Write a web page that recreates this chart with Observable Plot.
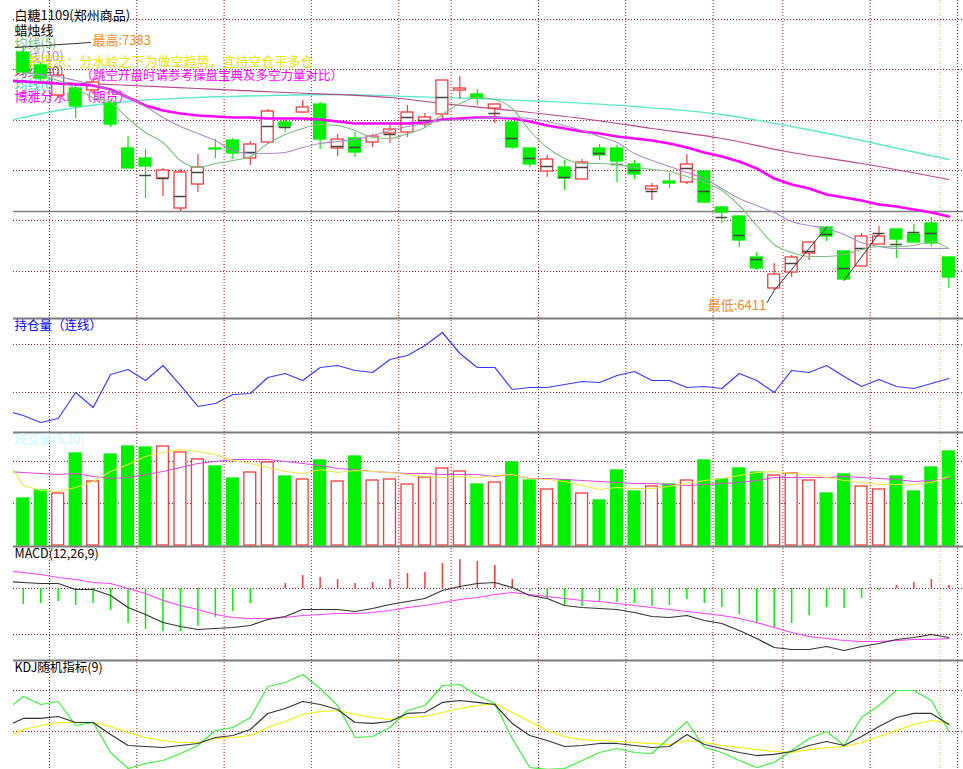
<!DOCTYPE html>
<html><head><meta charset="utf-8">
<script src="https://cdn.jsdelivr.net/npm/d3@7"></script>
<script src="https://cdn.jsdelivr.net/npm/@observablehq/plot@0.6"></script>
<style>
body{margin:0;background:#fff;}
#chart{width:963px;line-height:0;}
#chart svg{display:block;}
</style></head><body><div id="chart"></div>
<script>
// ---- candle data (bar index 0..53) ----
const opens  = [7363,7311,7191,7219,7211,7159,6979,6939,6859,6739, 6835,6979,7011,6939,7003,7083,7123,7155,6979,7019, 7003,7039,7043,7075,7115,7211,7195,7139,7083,6979, 6887,6903,6855,6979,6979,6915,6815,6847,6843,6887, 6743,6707,6543,6419,6483,6559,6663,6567,6507,6595, 6655,6635,6679,6543];
const highs  = [7383,7323,7283,7231,7259,7171,7027,6975,6899,6895, 6955,7015,7019,7007,7135,7091,7171,7163,7035,7043, 7035,7071,7151,7119,7251,7267,7215,7155,7083,6979, 6951,6931,6935,6995,6991,6931,6839,6879,6955,6887, 6747,6707,6563,6519,6551,6603,6663,6567,6639,6667, 6655,6675,6703,6543];
const lows   = [7267,7243,7179,7099,7195,7063,6899,6779,6787,6727, 6803,6939,6935,6911,6995,7043,7119,6975,6947,6943, 6983,6999,7023,7059,7095,7175,7151,7079,6975,6903, 6863,6811,6855,6931,6843,6855,6771,6819,6835,6759, 6679,6583,6491,6411,6463,6531,6607,6451,6507,6595, 6539,6603,6587,6419];
const closes = [7283,7259,7271,7147,7243,7075,6899,6907,6891,6883, 6903,6975,6959,6995,7127,7067,7143,7015,7015,6963, 7027,7055,7123,7103,7251,7219,7179,7155,6983,6915, 6935,6859,6923,6951,6927,6875,6827,6839,6915,6763, 6723,6611,6499,6475,6543,6603,6627,6455,6627,6627, 6615,6603,6599,6463];
const settleIdx = [7,8,9,10,13,14,15,18,19,21,22,23,24,27,28,29,30,31,32,33,34,35,36,38,39,40,41,42,44,45,46,47,48,49,50,51,52];
const settleVal = [6871,6859,6787,6883,6963,7067,7063,6987,6983,7035,7103,7091,7183,7119,7019,6939,6907,6863,6903,6959,6915,6891,6807,6899,6807,6703,6631,6535,6519,6567,6635,6499,6579,6639,6595,6643,6639];
// moving averages on price (index 0..53)
const ma5  = [7283,7271,7251,7219,7183,7163,7099,7043,7003,6931, 6903,6919,6931,6947,6999,7035,7059,7075,7071,7051, 7023,7019,7039,7063,7115,7159,7183,7175,7139,7051, 6983,6939,6919,6919,6915,6903,6895,6887,6867,6843, 6811,6751,6671,6595,6563,6547,6547,6555,6575,6587, 6587,6591,6607,6579];
const ma10 = [7283,7275,7267,7251,7235,7211,7183,7147,7103,7067, 7039,7011,6971,6959,6959,6963,6983,6999,7007,7015, 7031,7051,7067,7079,7091,7095,7099,7103,7103,7099, 7087,7071,7051,7027,7003,6959,6931,6907,6883,6859, 6819,6779,6751,6723,6687,6671,6659,6635,6603,6587, 6579,6579,6579,6579];
const ma40Idx = [-1,5,10,15,21,24,28,32,36,40,44,48,53];
const ma40    = [7251,7235,7219,7203,7183,7159,7131,7099,7059,7019,6963,6919,6855];
const ma60Idx = [-1,0,3,6,10,14,18,22,26,30,35,40,44,48,53];
const ma60    = [7087,7103,7143,7167,7183,7191,7195,7187,7179,7167,7147,7115,7067,7011,6935];
// 博雅分水岭, index -1..53
const divide = [7251,7247,7243,7239,7235,7231,7215,7183,7151,7131,7119,7111,7107,7103,7103,7099,7099,7099,7095,7087,7079,7079,7079,7079,7083,7095,7099,7103,7103,7099,7087,7071,7059,7047,7039,7027,7019,7011,6999,6983,6963,6947,6927,6899,6859,6835,6819,6795,6783,6771,6755,6747,6735,6723,6707];
const priceGrid = [7495,7295,7091,6891,6691,6487];
const priceRef = 6727;
const highMark = 7383, lowMark = 6411;
// open interest, index -1..53
const openInt = [370000,361700,350000,356700,400000,375000,430000,438300,420000,445000,411700, 376700,381700,396700,398300,425000,431700,420000,441700,445000,436700, 433300,455000,461700,478300,500000,465000,441700,441700,405000,408300, 408300,413300,418300,416700,428300,435000,420000,420000,408300,410000, 406700,431700,420000,400000,436700,433300,445000,426700,410000,421700, 410000,406700,415000,423300];
const oiGrid = [480000,400000];
// volume (index 0..53) and its averages (index -1..53)
const volume = [223800,261900,247600,438100,304800,433300,471400,466700,471400,442900, 409500,376200,319100,347600,395200,328600,314300,404800,304800,423800, 309500,314300,290500,323800,366700,352400,290500,300000,395200,309500, 266700,309500,247600,214300,357200,257100,281000,290500,309500,404800, 314300,366700,347600,333300,342900,309500,247600,338100,281000,266700, 328600,257100,371400,447600];
const volMa5 = [414300, 285700,261900,257100,276200,304800,352400,385700,423800,442900,457200, 447600,433300,404800,390500,371400,352400,342900,361900,347600,357200, 352400,347600,338100,328600,323800,328600,323800,333300,338100,319100, 314300,304800,285700,266700,276200,271400,271400,281000,295200,309500, 319100,333300,347600,352400,342900,338100,323800,309500,300000,290500, 290500,290500,300000,328600];
const volMa10 = [352400, 347600,342900,338100,342900,328600,319100,323800,338100,352400,371400, 390500,400000,409500,409500,409500,400000,390500,381000,366700,361900, 352400,347600,342900,342900,338100,338100,338100,328600,338100,319100, 319100,314300,309500,304800,300000,295200,295200,290500,285700,290500, 295200,300000,309500,323800,323800,323800,323800,328600,323800,319100, 314300,304800,309500,319100];
const volGrid = [400000,200000];
// MACD (hist index 0..53, lines index -1..53)
const macdHist = [-32,-30,-26,-34,-30,-44,-70,-82,-86,-86, -76,-58,-46,-30,-2,10,26,22,18,10, 12,18,30,32,50,58,54,46,18,-6, -20,-34,-36,-28,-28,-30,-36,-34,-22,-30, -38,-52,-68,-78,-70,-54,-38,-40,-20,-4, 6,12,18,6];
const dif = [14, 12,10,10,-2,-2,-14,-38,-52,-68,-76, -82,-80,-78,-74,-62,-56,-42,-42,-42,-46, -40,-32,-26,-20,-4,4,10,12,2,-14, -20,-34,-38,-40,-42,-48,-56,-58,-54,-64, -70,-84,-100,-118,-122,-122,-116,-124,-116,-110, -102,-98,-92,-98];
const dea = [36, 32,28,22,18,12,10,0,-10,-24,-34, -42,-52,-58,-60,-60,-58,-54,-52,-50,-50, -48,-44,-38,-34,-28,-22,-18,-12,-8,-12, -16,-20,-24,-26,-30,-34,-38,-42,-46,-50, -54,-60,-68,-78,-88,-96,-100,-104,-106,-106, -104,-102,-102,-100];
const macdGrid = [0,-92];
// KDJ, index -1..53
const kLine = [56.1, 65.9,65.9,68.3,61.0,61.0,46.3,32.9,31.7,30.5,32.9, 35.4,42.7,45.1,52.4,72.0,78.0,86.6,82.9,76.8,61.0, 59.8,62.2,72.0,73.2,85.4,87.8,85.4,82.9,59.8,45.1, 39.0,31.7,32.9,35.4,35.4,32.9,30.5,31.7,46.3,34.1, 29.3,24.4,20.7,22.0,25.6,32.9,37.8,32.9,43.9,56.1, 67.1,72.0,72.0,58.5];
const dLine = [41.5, 52.4,57.3,61.0,61.0,61.0,56.1,48.8,42.7,39.0,36.6, 36.6,41.5,42.7,45.1,54.9,62.2,70.7,74.4,75.6,70.7, 67.1,64.6,67.1,68.3,73.2,78.0,81.7,84.1,73.2,62.2, 51.2,43.9,40.2,39.0,37.8,36.6,35.4,34.1,39.0,36.6, 32.9,30.5,28.0,25.6,24.4,28.0,30.5,31.7,36.6,43.9, 51.2,58.5,63.4,59.8];
const jLine = [75.6, 92.7,82.9,86.6,57.3,61.0,24.4,4.9,11.0,14.6,23.2, 32.9,51.2,54.9,67.1,104.9,109.8,119.5,102.4,81.7,42.7, 43.9,54.9,75.6,81.7,106.1,107.3,93.9,84.1,41.5,6.1, 3.7,4.9,14.6,24.4,29.3,24.4,23.2,42.7,62.2,30.5, 24.4,14.6,6.1,12.2,26.8,41.5,50.0,32.9,67.1,81.7, 100.0,100.0,87.8,50.0];
const kdjGrid = [100,50];
// week separators (bar boundaries) and the current-day marker
const weekBreaks = [1.5,6.5,11.5,16.5,21.5,24.5,29.5,34.5,39.5,43.5,48.5,53.5];
const todayBreak = [52.5];
// texts
const title = "白糖1109(郑州商品)";
const mainLabels = ["蜡烛线","均线(5)","均线(10)","均线(40)","均线(60)","博雅分水岭（期货）"];
const hint1 = "最新提示：分水岭之下为做空趋势，宜持空仓平多仓";
const hint2 = "（跳空开盘时请参考操盘宝典及多空力量对比）";
const highText = "最高:7383", lowText = "最低:6411";
const oiTitle = "持仓量（连线）", volTitle = "成交量(5,10)", macdTitle = "MACD(12,26,9)", kdjTitle = "KDJ随机指标(9)";

// ---- build ----
const RED = "#f23a3a", GREEN = "#00f000", GRID = "#a01818", SEP = "#7a7a7a";
const FONT = "'Noto Sans CJK SC', sans-serif";
const N = opens.length;
const bars = d3.range(N).map(i => ({i, o: opens[i], h: highs[i], l: lows[i], c: closes[i], up: closes[i] >= opens[i]}));
const from = (arr, start) => arr.map((v, k) => ({i: k + start, v}));
const pairs = (ix, vals) => ix.map((i, k) => ({i, v: vals[k]}));
const X = {type: "linear", domain: [-0.56, 53.84], axis: null};
const W = 0.34;
const label = (t, dx, dy, fill, size = 13) => Plot.text([t], {frameAnchor: "top-left", dx, dy, text: d => d, fill, fontSize: size, textAnchor: "start", lineAnchor: "top", fontFamily: FONT});
const vgrid = () => [
  Plot.ruleX(weekBreaks, {stroke: GRID, strokeDasharray: "1,2", strokeWidth: 1}),
  Plot.ruleX(todayBreak, {stroke: "#ffb060", strokeDasharray: "1,2", strokeWidth: 1})
];
const panel = (height, y, marks) => Plot.plot({
  width: 963, height, marginLeft: 13, marginRight: 0, marginTop: 0, marginBottom: 0,
  x: X, y: {...y, axis: null}, style: {background: "white", fontFamily: FONT, overflow: "visible"}, marks
});

const main = panel(317, {domain: [lowMark, highMark], range: [290, 47]}, [
  Plot.ruleY(priceGrid, {stroke: GRID, strokeDasharray: "1,2"}),
  ...vgrid(),
  Plot.ruleY([priceRef], {stroke: "#808080", strokeWidth: 1.5}),
  Plot.line(pairs(ma60Idx, ma60), {x: "i", y: "v", stroke: "#5ee8cc", strokeWidth: 1.3, curve: "monotone-x", clip: true}),
  Plot.line(pairs(ma40Idx, ma40), {x: "i", y: "v", stroke: "#b8468e", strokeWidth: 1.2, curve: "monotone-x", clip: true}),
  label(title, 1, 10, "#000"),
  label(mainLabels[0], 1, 25, "#000"),
  label(mainLabels[1], 1, 38, "#7cc07c"),
  label(mainLabels[2], 1, 51, "#a58cc8"),
  label(mainLabels[3], 1, 66, "#a0307e"),
  label(mainLabels[4], 1, 79, "#3cd0bc"),
  label(mainLabels[5], 1, 91, "#ff00ff"),
  label(hint1, 1, 56, "#e6e600", 13),
  label(hint2, 67, 71, "#ff00ff", 12.5),
  Plot.ruleX(bars, {x: "i", y1: "l", y2: "h", stroke: d => d.up ? RED : GREEN, strokeWidth: 1.2}),
  Plot.rect(bars, {x1: d => d.i - W, x2: d => d.i + W, y1: "o", y2: "c", fill: d => d.up ? "white" : GREEN, stroke: d => d.up ? RED : GREEN, strokeWidth: 1.3}),
  Plot.ruleY(pairs(settleIdx, settleVal), {y: "v", x1: d => d.i - W, x2: d => d.i + W, stroke: "#444", strokeWidth: 1.5}),
  Plot.line(from(divide, -1), {x: "i", y: "v", stroke: "#ff00ff", strokeWidth: 2.6, clip: true}),
  Plot.line(from(ma10, 0), {x: "i", y: "v", stroke: "#a58cc8", strokeWidth: 1.1, curve: "monotone-x"}),
  Plot.line(from(ma5, 0), {x: "i", y: "v", stroke: "#7cc07c", strokeWidth: 1.1, curve: "monotone-x"}),
  Plot.line([{i: -0.45, v: highMark}, {i: 3.85, v: highMark + 20}], {x: "i", y: "v", stroke: "#333", strokeWidth: 1}),
  Plot.text([highText], {frameAnchor: "top-left", dx: 79, dy: 35, text: d => d, fill: "#f08a28", fontSize: 13, textAnchor: "start", lineAnchor: "top", fontFamily: FONT}),
  Plot.line([{i: 42.6, v: lowMark - 48}, {i: 43, v: lowMark}, {i: 46, v: highs[46]}], {x: "i", y: "v", stroke: "#333", strokeWidth: 1}),
  Plot.line([{i: 47, v: lows[47]}, {i: 49, v: 6639}], {x: "i", y: "v", stroke: "#333", strokeWidth: 1}),
  Plot.text([{i: 43, v: lowMark}], {x: "i", y: "v", text: () => lowText, dx: -8, dy: 15, textAnchor: "end", fill: "#f08a28", fontSize: 13, fontFamily: FONT})
]);

const oi = panel(114, {domain: [335000, 525000], range: [114, 0]}, [
  Plot.ruleY(oiGrid, {stroke: GRID, strokeDasharray: "1,2"}),
  ...vgrid(),
  Plot.ruleY([525000], {stroke: SEP, strokeWidth: 2, dy: 1}),
  Plot.line(from(openInt, -1), {x: "i", y: "v", stroke: "#3a3aff", strokeWidth: 1.2, clip: true}),
  label(oiTitle, 1, 4, "#0000ff", 12.5)
]);

const volBars = bars.map(b => ({...b, v: volume[b.i]}));
const vol = panel(114, {domain: [0, 542900], range: [114, 0]}, [
  Plot.ruleY(volGrid, {stroke: GRID, strokeDasharray: "1,2"}),
  ...vgrid(),
  Plot.rect(volBars, {x1: d => d.i - W, x2: d => d.i + W, y1: 0, y2: "v", fill: d => d.up ? "white" : GREEN, stroke: d => d.up ? RED : GREEN, strokeWidth: 1.3}),
  Plot.line(from(volMa10, -1), {x: "i", y: "v", stroke: "#e048e0", strokeWidth: 1.2, clip: true}),
  Plot.line(from(volMa5, -1), {x: "i", y: "v", stroke: "#e8e84a", strokeWidth: 1.2, clip: true}),
  Plot.ruleY([542900], {stroke: SEP, strokeWidth: 2, dy: 1}),
  label(volTitle, 1, 4, "#c8fafa", 12.5)
]);

const macd = panel(114, {domain: [-142, 86], range: [114, 0]}, [
  Plot.ruleY(macdGrid, {stroke: GRID, strokeDasharray: "1,2"}),
  ...vgrid(),
  Plot.ruleY([86], {stroke: SEP, strokeWidth: 2, dy: 1}),
  Plot.ruleX(from(macdHist, 0), {x: "i", y1: 0, y2: "v", stroke: d => d.v >= 0 ? RED : GREEN, strokeWidth: 1.5}),
  Plot.line(from(dea, -1), {x: "i", y: "v", stroke: "#ff40ff", strokeWidth: 1.2, clip: true}),
  Plot.line(from(dif, -1), {x: "i", y: "v", stroke: "#333", strokeWidth: 1.2, clip: true}),
  label(macdTitle, 1, 4, "#000", 12.5)
]);

const kdj = panel(110, {domain: [3.66, 137.8], range: [110, 0]}, [
  Plot.ruleY(kdjGrid, {stroke: GRID, strokeDasharray: "1,2"}),
  ...vgrid(),
  Plot.ruleY([137.8], {stroke: SEP, strokeWidth: 2, dy: 1}),
  Plot.line(from(dLine, -1), {x: "i", y: "v", stroke: "#f0f000", strokeWidth: 1.2, clip: true}),
  Plot.line(from(jLine, -1), {x: "i", y: "v", stroke: "#3cf03c", strokeWidth: 1.2, clip: true}),
  Plot.line(from(kLine, -1), {x: "i", y: "v", stroke: "#333", strokeWidth: 1.2, clip: true}),
  label(kdjTitle, 1, 4, "#000", 12.5)
]);

const root = document.getElementById("chart");
[main, oi, vol, macd, kdj].forEach(p => root.appendChild(p));
</script>
</body></html>
